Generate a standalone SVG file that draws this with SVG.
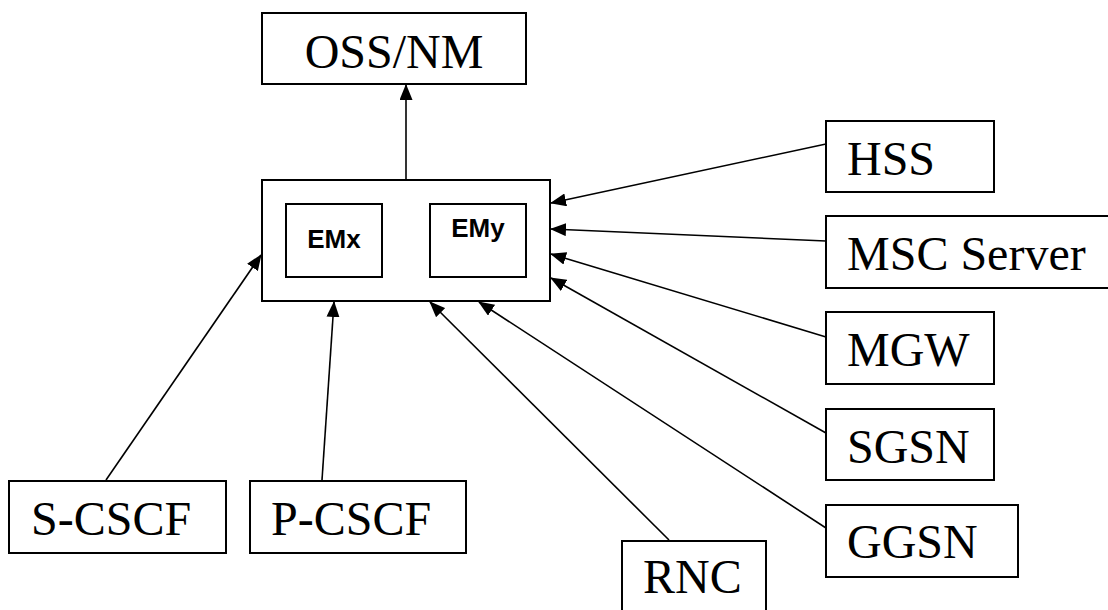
<svg xmlns="http://www.w3.org/2000/svg" width="1108" height="610" viewBox="0 0 1108 610">
<style>
.box{fill:#fff;stroke:#000;stroke-width:2}
.lbl{font-family:'Liberation Serif','Times New Roman',Times,'DejaVu Serif',serif;font-size:48px;fill:#000}
.em{font-family:'Liberation Sans',Arial,sans-serif;font-size:26px;font-weight:bold;fill:#000;text-anchor:middle}
.conn{stroke:#000;stroke-width:1.6;fill:none;marker-end:url(#arr)}
</style>
<defs>
<marker id="arr" markerUnits="userSpaceOnUse" markerWidth="16" markerHeight="13" viewBox="0 0 16 13" refX="15" refY="6.5" orient="auto">
<path d="M0,0 L16,6.5 L0,13 z" fill="#000"/>
</marker>
</defs>
<rect width="1108" height="610" fill="#fff"/>
<g id="connectors">
<line class="conn" x1="406" y1="180" x2="406" y2="85"/>
<line class="conn" x1="826" y1="144" x2="551" y2="203"/>
<line class="conn" x1="826" y1="241" x2="551" y2="229"/>
<line class="conn" x1="826" y1="337" x2="551" y2="254"/>
<line class="conn" x1="826" y1="433" x2="551" y2="278"/>
<line class="conn" x1="826" y1="528" x2="479" y2="302"/>
<line class="conn" x1="669" y1="540" x2="430" y2="302"/>
<line class="conn" x1="322" y1="480" x2="334" y2="302"/>
<line class="conn" x1="106" y1="480" x2="261" y2="255"/>
</g>
<g id="oss">
<rect class="box" x="262" y="13" width="264" height="71"/>
<text class="lbl" x="394" y="68" text-anchor="middle" font-family="Liberation Serif, serif">OSS/NM</text>
</g>
<g id="em">
<rect class="box" x="262" y="180" width="288" height="121"/>
</g>
<g id="emx">
<rect class="box" x="286" y="204" width="96" height="73"/>
<text class="em" x="334" y="248">EMx</text>
</g>
<g id="emy">
<rect class="box" x="430" y="204" width="96" height="73"/>
<text class="em" x="478" y="237">EMy</text>
</g>
<g id="hss">
<rect class="box" x="826" y="121" width="168" height="71"/>
<text class="lbl" x="847" y="175">HSS</text>
</g>
<g id="msc">
<rect class="box" x="826" y="216" width="290" height="72"/>
<text class="lbl" x="847" y="270">MSC Server</text>
</g>
<g id="mgw">
<rect class="box" x="826" y="312" width="168" height="72"/>
<text class="lbl" x="847" y="366">MGW</text>
</g>
<g id="sgsn">
<rect class="box" x="826" y="409" width="168" height="71"/>
<text class="lbl" x="847" y="463">SGSN</text>
</g>
<g id="ggsn">
<rect class="box" x="826" y="505" width="192" height="72"/>
<text class="lbl" x="847" y="558">GGSN</text>
</g>
<g id="rnc">
<rect class="box" x="622" y="541" width="144" height="80"/>
<text class="lbl" x="643" y="593">RNC</text>
</g>
<g id="scscf">
<rect class="box" x="9" y="481" width="217" height="72"/>
<text class="lbl" x="31" y="535">S-CSCF</text>
</g>
<g id="pcscf">
<rect class="box" x="250" y="481" width="216" height="72"/>
<text class="lbl" x="271" y="535">P-CSCF</text>
</g>
</svg>
